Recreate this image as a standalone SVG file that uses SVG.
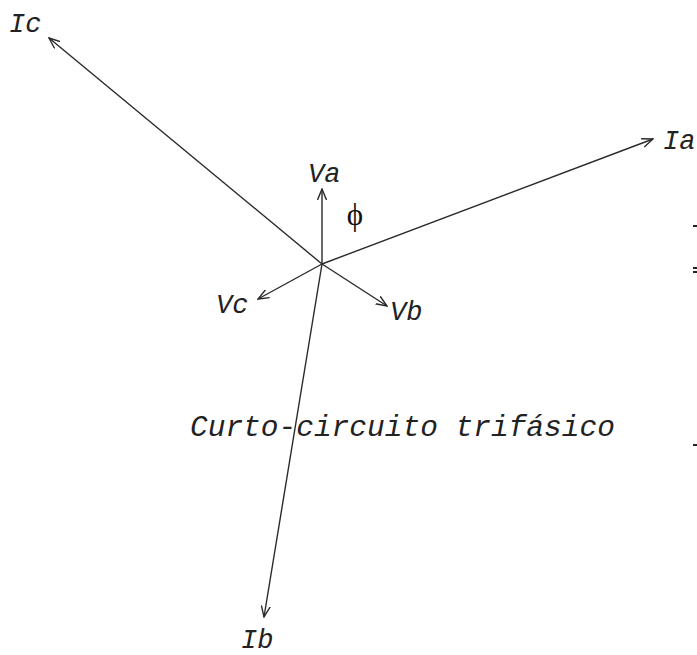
<svg xmlns="http://www.w3.org/2000/svg" width="697" height="655" viewBox="0 0 697 655">
<defs>
<style>
.ph{stroke:#2a2a2a;stroke-width:1.4;fill:none;marker-end:url(#ah)}
.lbl{font-family:"Liberation Mono","DejaVu Sans Mono",monospace;font-style:italic;font-size:27px;fill:#222}
.tick{fill:#222}
</style>
<marker id="ah" viewBox="0 0 12 10" refX="11" refY="5" markerWidth="12" markerHeight="10" markerUnits="userSpaceOnUse" orient="auto">
<path d="M0,0.5 L11,5 L0,9.5" fill="none" stroke="#2a2a2a" stroke-width="1.4"/>
</marker>
</defs>
<rect width="697" height="655" fill="#fff"/>
<g id="connectors">
<line id="Ic-vec" class="ph" x1="322" y1="264" x2="49" y2="38"/>
<line id="Ia-vec" class="ph" x1="322" y1="264" x2="653" y2="139"/>
<line id="Ib-vec" class="ph" x1="322" y1="264" x2="264" y2="617"/>
<line id="Va-vec" class="ph" x1="322" y1="264" x2="322" y2="189"/>
<line id="Vb-vec" class="ph" x1="322" y1="264" x2="387" y2="306"/>
<line id="Vc-vec" class="ph" x1="322" y1="264" x2="258" y2="299"/>
</g>
<g id="node-Ic"><text class="lbl" x="9" y="32">Ic</text></g>
<g id="node-Ia"><text class="lbl" x="663" y="149">Ia</text></g>
<g id="node-Ib"><text class="lbl" x="241" y="648">Ib</text></g>
<g id="node-Va"><text class="lbl" x="308" y="182">Va</text></g>
<g id="node-Vb"><text class="lbl" x="390" y="320">Vb</text></g>
<g id="node-Vc"><text class="lbl" x="216" y="313">Vc</text></g>
<g id="node-phi"><text x="355" y="225" text-anchor="middle" font-family="'Liberation Serif','DejaVu Serif',serif" font-size="31" fill="#111">ϕ</text></g>
<g id="node-title"><text class="lbl" x="190" y="436" font-size="29.5" style="font-size:29.5px">Curto-circuito trifásico</text></g>
<g id="edge-marks">
<rect class="tick" x="693" y="225" width="4" height="2"/>
<rect class="tick" x="693" y="267" width="4" height="2"/>
<rect class="tick" x="693" y="271" width="4" height="2"/>
<rect class="tick" x="693" y="444" width="4" height="2"/>
</g>
</svg>
